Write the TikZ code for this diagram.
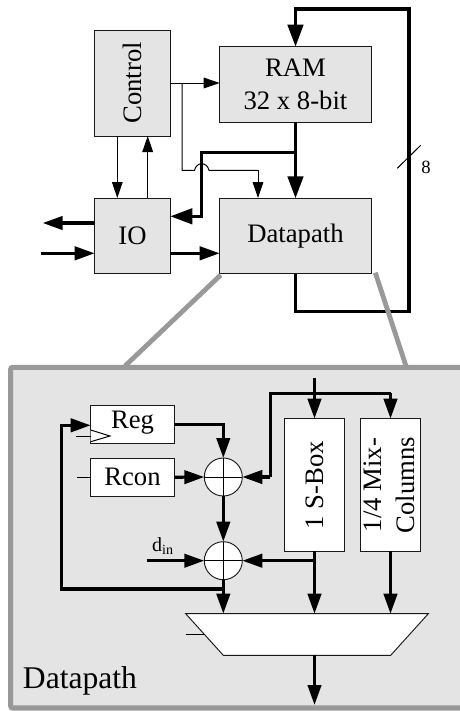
\documentclass[tikz,border=0pt]{standalone}
\usepackage{fontspec}
\setmainfont{Liberation Serif}
\usetikzlibrary{arrows.meta}
\definecolor{boxgray}{HTML}{E4E4E4}
\definecolor{framegray}{HTML}{999999}
\tikzset{
  block/.style={draw=black!90,line width=0.7pt,inner sep=0pt,outer sep=0pt,align=center,font=\fontsize{20}{25}\selectfont},
  graybox/.style={block,fill=boxgray},
  whitebox/.style={block,fill=white},
  boxtext/.style={font=\fontsize{20}{25}\selectfont,inner sep=0pt,align=center},
  xorgate/.style={circle,draw=black!90,fill=white,line width=0.7pt,minimum size=28.5pt,inner sep=0pt,outer sep=0pt},
  thin wire/.style={line width=0.75pt,black,-{Triangle[length=12pt,width=8pt]}},
  thin plain/.style={line width=0.75pt,black},
  big wire/.style={line width=2.6pt,line join=miter,-{Triangle[length=16.5pt,width=11.5pt]}},
  mid wire/.style={line width=2.4pt,line join=miter,-{Triangle[length=15pt,width=10pt]}},
  wire plain/.style={line width=2.4pt,line join=miter},
  callout/.style={line width=3.6pt,framegray},
}
\begin{document}
\begin{tikzpicture}[x=0.75pt,y=-0.75pt]
\useasboundingbox (0,0) rectangle (460,711);
\clip (0,0) rectangle (460,711);
% top level blocks
\node[graybox,minimum width=56.7pt,minimum height=79.5pt] (ctl) at (132.5,83) {};
\node[boxtext,rotate=90] (ctltext) at (132.5,83) {Control};
\node[graybox,minimum width=113.7pt,minimum height=56.7pt] (ram) at (295.5,84.5) {RAM\\32 x 8-bit};
\node[graybox,minimum width=56.7pt,minimum height=56.7pt] (io) at (132.5,235.8) {};
\node[boxtext] (iotext) at (132.5,236) {IO};
\node[graybox,minimum width=113.7pt,minimum height=56.5pt] (dp) at (295.5,236) {};
\node[boxtext] (dptext) at (295.5,236) {Datapath};
% coordinates
\coordinate (loopTR) at (409,9);
\coordinate (loopTL) at (295.5,9);
\coordinate (loopBR) at (409,311.7);
\coordinate (loopBL) at (295.5,311.7);
\coordinate (ramsplit) at (295.5,152.7);
\coordinate (iocorner) at (201.7,152.7);
\coordinate (iohit) at (201.7,216.3);
\coordinate (iohit2) at (170.3,216.3);
\coordinate (tap) at (182,83);
\coordinate (ctlout) at (170.3,83);
\coordinate (ramin) at (219.7,83);
\coordinate (tapdown) at (182,170.3);
\coordinate (hopL) at (194.5,170.3);
\coordinate (hopR) at (209,170.3);
\coordinate (dpin) at (258,170.3);
\coordinate (dpinend) at (258,198);
\coordinate (ctldownA) at (117.3,136);
\coordinate (ctldownB) at (117.3,198);
\coordinate (ctlupA) at (147.7,198);
\coordinate (ctlupB) at (147.7,136);
\coordinate (ioOutA) at (94.7,223);
\coordinate (ioOutB) at (42.7,223);
\coordinate (ioInA) at (40.7,253.3);
\coordinate (ioInB) at (94.7,253.3);
\coordinate (ioDpA) at (170.3,253.3);
\coordinate (ioDpB) at (219.7,253.3);
\coordinate (slashA) at (397.3,168.3);
\coordinate (slashB) at (420.7,145.3);
% connectors, top level
\draw[big wire] (ram.south) -- (dp.north);
\draw[thin wire] (ctlout) -- (ramin);
\draw[thin plain] (tap) -- (tapdown) -- (hopL) .. controls (196.5,161.5) and (207,161.5) .. (hopR) -- (dpin);
\draw[thin wire] (dpin) -- (dpinend);
\draw[big wire] (ramsplit) -- (iocorner) -- (iohit) -- (iohit2);
\draw[thin wire] (ctldownA) -- (ctldownB);
\draw[thin wire] (ctlupA) -- (ctlupB);
\draw[mid wire] (ioOutA) -- (ioOutB);
\draw[mid wire] (ioInA) -- (ioInB);
\draw[mid wire] (ioDpA) -- (ioDpB);
\draw[big wire] (dp.south) -- (loopBL) -- (loopBR) -- (loopTR) -- (loopTL) -- (ram.north);
\draw[thin plain] (slashA) -- (slashB);
\node[font=\fontsize{14}{16}\selectfont,inner sep=0pt] (eight) at (426,167) {8};
% callout lines and panel
\coordinate (calloutLa) at (220.7,275);
\coordinate (calloutLb) at (125,366);
\coordinate (calloutRa) at (375.3,272.7);
\coordinate (calloutRb) at (406,366);
\draw[callout] (calloutLa) -- (calloutLb);
\draw[callout] (calloutRa) -- (calloutRb);
\draw[draw=framegray,fill=boxgray,line width=3.8pt,rounded corners=1.5pt] (10.7,367.3) rectangle (475,708);
% datapath detail
\node[whitebox,minimum width=62.7pt,minimum height=28.5pt] (reg) at (132.5,424.3) {};
\node[boxtext] (regtext) at (132.5,423) {Reg};
\node[whitebox,minimum width=62.7pt,minimum height=28.3pt] (rcon) at (132.5,477.2) {Rcon};
\node[xorgate] (xa) at (223.3,477) {};
\node[xorgate] (xb) at (223.3,560.7) {};
\node[whitebox,minimum width=45.3pt,minimum height=99.5pt] (sbox) at (314.5,485) {};
\node[boxtext,rotate=90] (sboxtext) at (314.5,485) {1 S-Box};
\node[whitebox,minimum width=45.3pt,minimum height=99.5pt] (mix) at (390.5,485) {};
\node[boxtext,rotate=90] (mixtext) at (389.5,485) {1/4 Mix-\\Columns};
\draw[whitebox] (185.7,613.7) coordinate (muxTL) -- (428.3,613.7) coordinate (muxTR) -- (390.7,655.3) coordinate (muxBR) -- (223.3,655.3) coordinate (muxBL) -- cycle;
\coordinate (muxinA) at (223.3,613.7);
\coordinate (muxinB) at (314.5,613.7);
\coordinate (muxinC) at (390.5,613.7);
\coordinate (muxout) at (314.5,655.3);
\coordinate (dpend) at (314.5,705);
\coordinate (topin) at (314.5,377.7);
\coordinate (busL) at (270.3,393.3);
\coordinate (busR) at (390.5,393.3);
\coordinate (busD) at (270.3,477);
\coordinate (regcorner) at (223.3,424.3);
\coordinate (fbjoin) at (223.3,589);
\coordinate (fbL) at (61.7,589);
\coordinate (fbT) at (61.7,425.3);
\coordinate (fbE) at (90.7,425.3);
\coordinate (dinstart) at (146.7,560.7);
\coordinate (sboxtap) at (314.5,560.7);
\coordinate (clkstub) at (76,436);
\coordinate (clkhit) at (90.7,436);
\coordinate (clkA) at (90.7,430);
\coordinate (clkB) at (110,436);
\coordinate (clkC) at (90.7,441.7);
\coordinate (rconstub) at (77.3,477.2);
\coordinate (muxstubA) at (185.7,634.7);
\coordinate (muxstubB) at (204,634.7);
\draw[thin plain,fill=white] (clkA) -- (clkB) -- (clkC);
\draw[thin plain] (clkstub) -- (clkhit);
\draw[thin plain] (rconstub) -- (rcon.west);
\draw[thin plain] (muxstubA) -- (muxstubB);
\draw[thin plain] (xa.north) -- (xa.south);
\draw[thin plain] (xa.west) -- (xa.east);
\draw[thin plain] (xb.north) -- (xb.south);
\draw[thin plain] (xb.west) -- (xb.east);
\draw[mid wire] (topin) -- (sbox.north);
\draw[wire plain] (busD) -- (busL) -- (busR);
\draw[mid wire] (busR) -- (mix.north);
\draw[mid wire] (busD) -- (xa.east);
\draw[mid wire] (reg.east) -- (regcorner) -- (xa.north);
\draw[mid wire] (rcon.east) -- (xa.west);
\draw[mid wire] (xa.south) -- (xb.north);
\draw[mid wire] (dinstart) -- (xb.west);
\draw[mid wire] (sboxtap) -- (xb.east);
\draw[mid wire] (sbox.south) -- (muxinB);
\draw[mid wire] (mix.south) -- (muxinC);
\draw[mid wire] (fbjoin) -- (muxinA);
\draw[wire plain] (xb.south) -- (fbjoin);
\draw[mid wire] (fbjoin) -- (fbL) -- (fbT) -- (fbE);
\draw[mid wire] (muxout) -- (dpend);
\node[font=\fontsize{15}{17}\selectfont,inner sep=0pt] (din) at (163,546) {d\textsubscript{in}};
\node[font=\fontsize{23.7}{26}\selectfont,inner sep=0pt,anchor=base west] (dplabel) at (22.7,688) {Datapath};
\end{tikzpicture}
\end{document}
